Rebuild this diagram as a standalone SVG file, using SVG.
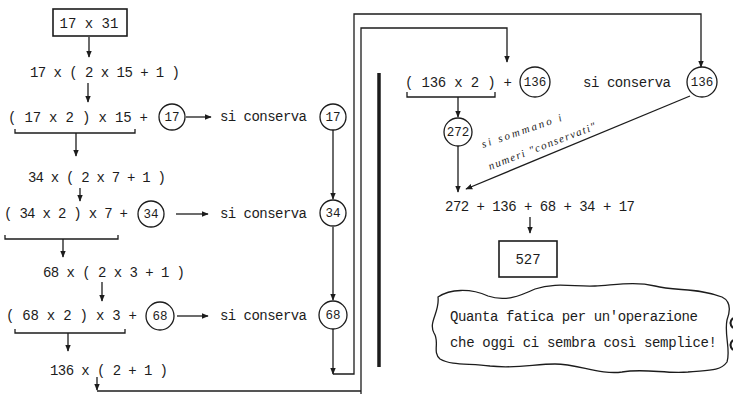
<svg xmlns="http://www.w3.org/2000/svg" width="733" height="394" viewBox="0 0 733 394">
<style>
.t{font-family:"Liberation Mono","DejaVu Sans Mono",monospace;font-size:14px;fill:#1c1c1c}
.c{font-family:"Liberation Mono","DejaVu Sans Mono",monospace;font-size:12.5px;fill:#1c1c1c;text-anchor:middle}
.h{font-family:"Liberation Serif",serif;font-style:italic;font-size:11px;fill:#1c1c1c}
.s{fill:none;stroke:#1c1c1c;stroke-width:1.3}
.b{fill:none;stroke:#1c1c1c;stroke-width:1.6}
.a{marker-end:url(#ah)}
</style>
<defs>
<marker id="ah" viewBox="0 0 10 10" refX="9" refY="5" markerWidth="7" markerHeight="7" orient="auto" markerUnits="userSpaceOnUse"><path d="M0,1 L10,5 L0,9 z" fill="#1c1c1c"/></marker>
</defs>
<rect width="733" height="394" fill="#fff"/>

<g id="connectors">
<line class="s a" x1="89" y1="37" x2="89" y2="57"/>
<line class="s a" x1="88" y1="83" x2="88" y2="102"/>
<line class="s a" x1="186" y1="117" x2="211" y2="117"/>
<path class="s" d="M15,129 V133 H135 V129"/>
<line class="s a" x1="76" y1="133" x2="76" y2="156"/>
<line class="s a" x1="80" y1="188" x2="80" y2="201"/>
<line class="s a" x1="176" y1="214" x2="208" y2="214"/>
<path class="s" d="M5,235 V239 H118 V235"/>
<line class="s a" x1="63" y1="239" x2="63" y2="257"/>
<line class="s a" x1="102" y1="282" x2="102" y2="301"/>
<line class="s a" x1="177" y1="316" x2="208" y2="316"/>
<path class="s" d="M15,329 V333 H125 V329"/>
<line class="s a" x1="68" y1="333" x2="68" y2="351"/>
<line class="s a" x1="333" y1="130" x2="333" y2="199"/>
<line class="s a" x1="333" y1="227" x2="333" y2="300"/>
<line class="s a" x1="333" y1="329" x2="333" y2="374"/>
<path class="s a" d="M333,374 H354 V14 H701 V67"/>
<line class="s a" x1="97" y1="377" x2="97" y2="390"/>
<path class="s" d="M97,391 H361"/>
<path class="s a" d="M361,394 V28 H507 V62"/>
<line x1="379" y1="73" x2="379" y2="367" stroke="#1c1c1c" stroke-width="3.5"/>
<path class="s" d="M407,92 V97 H495 V92"/>
<line class="s a" x1="458" y1="97" x2="458" y2="117"/>
<line class="s a" x1="458" y1="146" x2="458" y2="192"/>
<line class="s a" x1="690" y1="96" x2="466" y2="189"/>
<line class="s a" x1="530" y1="217" x2="530" y2="233"/>
</g>

<g id="n-start"><rect class="b" x="53" y="9" width="74" height="27"/><text class="t" x="89" y="28" text-anchor="middle">17 x 31</text></g>
<g id="n-e1"><text class="t" x="30" y="77" textLength="150" lengthAdjust="spacing">17 x ( 2 x 15 + 1 )</text></g>
<g id="n-e2"><text class="t" x="8" y="122" textLength="140" lengthAdjust="spacing">( 17 x 2 ) x 15 +</text><circle class="s" cx="172" cy="117" r="13"/><text class="c" x="172" y="121">17</text></g>
<g id="n-k17"><text class="t" x="220" y="121" textLength="87" lengthAdjust="spacing">si conserva</text><circle class="s" cx="333" cy="117" r="13"/><text class="c" x="333" y="121">17</text></g>
<g id="n-e3"><text class="t" x="28" y="182" textLength="138" lengthAdjust="spacing">34 x ( 2 x 7 + 1 )</text></g>
<g id="n-e4"><text class="t" x="4" y="218" textLength="124" lengthAdjust="spacing">( 34 x 2 ) x 7 +</text><circle class="s" cx="151" cy="214" r="13"/><text class="c" x="151" y="218">34</text></g>
<g id="n-k34"><text class="t" x="220" y="218" textLength="87" lengthAdjust="spacing">si conserva</text><circle class="s" cx="333" cy="213" r="13"/><text class="c" x="333" y="217">34</text></g>
<g id="n-e5"><text class="t" x="43" y="277" textLength="142" lengthAdjust="spacing">68 x ( 2 x 3 + 1 )</text></g>
<g id="n-e6"><text class="t" x="6" y="320" textLength="131" lengthAdjust="spacing">( 68 x 2 ) x 3 +</text><circle class="s" cx="160" cy="316" r="14"/><text class="c" x="160" y="320">68</text></g>
<g id="n-k68"><text class="t" x="220" y="320" textLength="87" lengthAdjust="spacing">si conserva</text><circle class="s" cx="333" cy="315" r="14"/><text class="c" x="333" y="319">68</text></g>
<g id="n-e7"><text class="t" x="50" y="375" textLength="118" lengthAdjust="spacing">136 x ( 2 + 1 )</text></g>
<g id="n-e8"><text class="t" x="405" y="87" textLength="107" lengthAdjust="spacing">( 136 x 2 ) +</text><circle class="s" cx="535" cy="82" r="15"/><text class="c" x="535" y="86">136</text></g>
<g id="n-k136"><text class="t" x="583" y="87" textLength="88" lengthAdjust="spacing">si conserva</text><circle class="s" cx="702" cy="82" r="15"/><text class="c" x="702" y="86">136</text></g>
<g id="n-272"><circle class="s" cx="458" cy="132" r="14"/><text class="c" x="458" y="136">272</text></g>
<g id="n-note"><text class="h" transform="translate(483,148) rotate(-19)" textLength="84" lengthAdjust="spacing">si sommano i</text><text class="h" transform="translate(490,170) rotate(-21)" textLength="114" lengthAdjust="spacing">numeri "conservati"</text></g>
<g id="n-sum"><text class="t" x="445" y="211" textLength="190" lengthAdjust="spacing">272 + 136 + 68 + 34 + 17</text></g>
<g id="n-result"><rect class="b" x="499" y="241" width="58" height="36"/><text class="t" x="528" y="264" text-anchor="middle">527</text></g>
<g id="n-cloud">
<path class="s" d="M438,297 C450,289 470,288 488,296 C505,302 520,296 535,289 C555,282 575,287 595,286 C615,285 635,281 655,286 C675,291 700,288 722,297 C732,302 730,312 727,320 C724,335 731,350 727,362 C720,372 705,370 688,372 C665,374 645,368 622,372 C600,375 578,364 555,364 C535,364 515,369 490,366 C470,363 452,366 440,359 C432,352 440,342 434,333 C428,322 440,312 438,297 Z"/>
<path d="M733,318 Q728,323 733,328 M733,340 Q728,345 733,350" fill="none" stroke="#1c1c1c" stroke-width="2"/>
<text class="t" x="450" y="321" textLength="248" lengthAdjust="spacing">Quanta fatica per un'operazione</text>
<text class="t" x="450" y="347" textLength="267" lengthAdjust="spacing">che oggi ci sembra così semplice!</text>
</g>
</svg>
